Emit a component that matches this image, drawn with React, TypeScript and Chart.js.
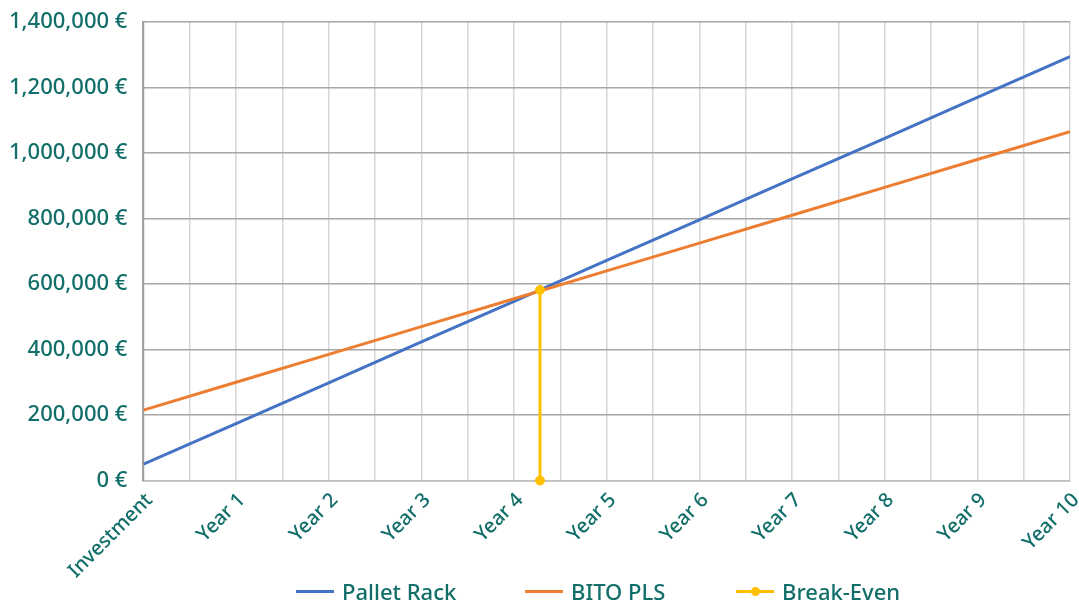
import React, { useEffect, useRef } from "react";
import { Chart, registerables } from "chart.js";

Chart.register(...registerables);

const categories = ["Investment", "Year 1", "Year 2", "Year 3", "Year 4", "Year 5", "Year 6", "Year 7", "Year 8", "Year 9", "Year 10"];
const palletRack = [50000, 174000, 298000, 423000, 547000, 672000, 796000, 921000, 1045000, 1170000, 1294000];
const bitoPls = [215000, 300000, 385000, 470000, 555000, 640000, 725000, 810000, 895000, 980000, 1065000];
const breakEvenX = [4.28, 4.28];
const breakEvenY = [582000, 0];
const seriesNames = ["Pallet Rack", "BITO PLS", "Break-Even"];
const seriesColors = ["#4472c4", "#ed7d31", "#ffc000"];

const TEAL = "#116e69";
const FONT = "'Noto Sans', 'Open Sans', sans-serif";

function LegendIcon({ color, dot }: { color: string; dot: boolean }) {
  return (
    <span style={{ position: "relative", display: "inline-block", width: 38, height: 12, marginRight: 8 }}>
      <span style={{ position: "absolute", left: 0, right: 0, top: 4.5, height: 3, background: color }} />
      {dot && (
        <span style={{ position: "absolute", left: 14.5, top: 1.5, width: 9, height: 9, borderRadius: 5, background: color }} />
      )}
    </span>
  );
}

export default function App() {
  const ref = useRef<HTMLCanvasElement | null>(null);
  useEffect(() => {
    if (!ref.current) return;
    const chart = new Chart(ref.current, {
      type: "line",
      data: {
        datasets: [
          {
            label: seriesNames[0],
            data: palletRack.map((v, i) => ({ x: i, y: v })),
            borderColor: seriesColors[0],
            borderWidth: 3,
            pointRadius: 0,
            order: 2,
          },
          {
            label: seriesNames[1],
            data: bitoPls.map((v, i) => ({ x: i, y: v })),
            borderColor: seriesColors[1],
            borderWidth: 3,
            pointRadius: 0,
            order: 1,
          },
          {
            label: seriesNames[2],
            data: breakEvenX.map((x, i) => ({ x, y: breakEvenY[i] })),
            borderColor: seriesColors[2],
            backgroundColor: seriesColors[2],
            pointBackgroundColor: seriesColors[2],
            pointBorderColor: seriesColors[2],
            borderWidth: 3,
            pointRadius: 4.5,
            pointHoverRadius: 4.5,
            pointBorderWidth: 1,
            clip: false as any,
            order: 0,
          },
        ],
      },
      options: {
        animation: false,
        responsive: false,
        maintainAspectRatio: false,
        layout: { padding: { top: 22, right: 9, left: -7, bottom: 11 } },
        plugins: {
          legend: { display: false },
          tooltip: { enabled: false },
        },
        scales: {
          x: {
            type: "linear",
            min: 0,
            max: 10,
            afterFit: (s: any) => {
              s.paddingLeft = 0;
              s.paddingRight = 0;
            },
            ticks: {
              stepSize: 0.5,
              autoSkip: false,
              minRotation: 45,
              maxRotation: 45,
              padding: 8,
              labelOffset: 6,
              color: TEAL,
              font: { family: FONT, size: 20, weight: 500 as any },
              callback: (v: any) => (Number.isInteger(v) ? categories[v] : ""),
            },
            grid: { color: "#d6d6d6", lineWidth: 1.5, drawTicks: false },
            border: { color: "#bfbfbf", width: 1.5 },
          },
          y: {
            min: 0,
            max: 1400000,
            afterFit: (s: any) => {
              s.paddingTop = 0;
              s.paddingBottom = 0;
            },
            ticks: {
              stepSize: 200000,
              color: TEAL,
              padding: 16,
              font: { family: FONT, size: 22, weight: 500 as any },
              callback: (v: any) => Number(v).toLocaleString("en-US") + " €",
            },
            grid: { color: "#a6a6a6", lineWidth: 1.5, drawTicks: false },
            border: { color: "#a0a0a0", width: 2 },
          },
        },
      },
    });
    return () => chart.destroy();
  }, []);
  const legendLefts = [296, 525, 736];
  return (
    <div style={{ position: "fixed", left: 0, top: 0, width: 1079, height: 602, background: "#fff", fontFamily: FONT }}>
      <canvas ref={ref} width={1079} height={602} style={{ width: 1079, height: 602, display: "block" }} />
      {seriesNames.map((n, i) => (
        <div
          key={n}
          style={{
            position: "absolute",
            left: legendLefts[i],
            top: 578,
            height: 26,
            display: "flex",
            alignItems: "center",
            color: TEAL,
            fontSize: 22,
            fontWeight: 500,
            whiteSpace: "nowrap",
          }}
        >
          <LegendIcon color={seriesColors[i]} dot={i === 2} />
          <span>{n}</span>
        </div>
      ))}
    </div>
  );
}
